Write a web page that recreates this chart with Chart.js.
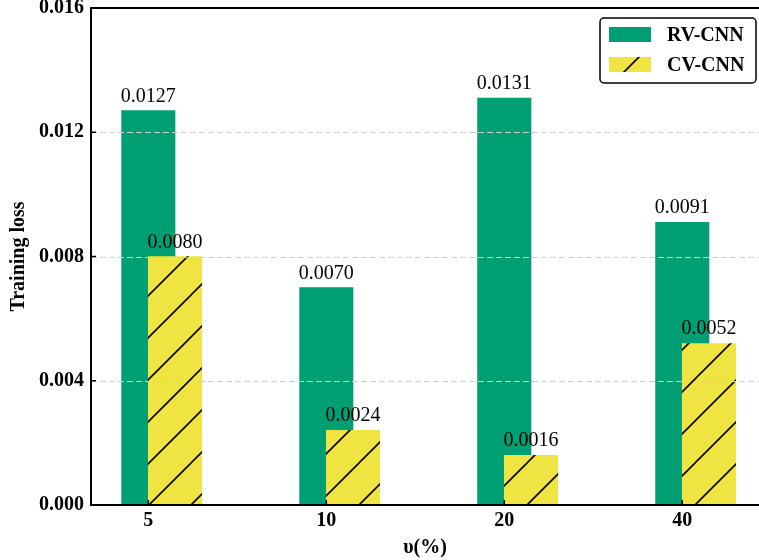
<!DOCTYPE html>
<html>
<head>
<meta charset="utf-8">
<script src="https://cdn.jsdelivr.net/npm/chart.js@4.4.0/dist/chart.umd.min.js"></script>
<style>
  html, body { margin: 0; padding: 0; background: #fff; }
  #wrap { width: 759px; height: 560px; }
</style>
</head>
<body>
<div id="wrap"><canvas id="lossChart" width="759" height="560"></canvas></div>
<script>
// values
const xLabels = ["5", "10", "20", "40"];
const seriesNames = ["RV-CNN", "CV-CNN"];
const rvLoss = [0.0127, 0.0070, 0.0131, 0.0091];
const cvLoss = [0.0080, 0.0024, 0.0016, 0.0052];
const yTicks = [0, 0.004, 0.008, 0.012, 0.016];

const GREEN = "#009E73";
const YELLOW = "#F0E442";
const FONT = "'Liberation Serif', 'Times New Roman', serif";

// diagonal "/" hatch on yellow
function makeHatch() {
  const s = 42;
  const c = document.createElement("canvas");
  c.width = s; c.height = s;
  const g = c.getContext("2d");
  g.fillStyle = YELLOW;
  g.fillRect(0, 0, s, s);
  g.strokeStyle = "#000";
  g.lineWidth = 1.6;
  g.beginPath();
  g.moveTo(-5, s + 5); g.lineTo(s + 5, -5);
  g.moveTo(-5, 5); g.lineTo(5, -5);
  g.moveTo(s - 5, s + 5); g.lineTo(s + 5, s - 5);
  g.stroke();
  const p = document.getElementById("lossChart").getContext("2d").createPattern(c, "repeat");
  p.setTransform(new DOMMatrix().translate(24, 0));
  return p;
}
const hatch = makeHatch();

const extras = {
  id: "extras",
  afterDatasetsDraw(chart) {
    const { ctx, chartArea: a, scales: { x, y } } = chart;
    ctx.save();

    // dashed grid, drawn over the bars
    ctx.strokeStyle = "#d0d0d0";
    ctx.lineWidth = 1.2;
    ctx.setLineDash([6, 3]);
    yTicks.slice(1, -1).forEach(v => {
      const py = Math.round(y.getPixelForValue(v)) + 0.5;
      ctx.beginPath(); ctx.moveTo(a.left, py); ctx.lineTo(a.right, py); ctx.stroke();
    });
    ctx.setLineDash([]);

    // spines and inward ticks
    ctx.strokeStyle = "#000";
    ctx.lineWidth = 2;
    ctx.beginPath();
    ctx.moveTo(a.right, a.top); ctx.lineTo(a.left, a.top);
    ctx.lineTo(a.left, a.bottom); ctx.lineTo(a.right, a.bottom);
    ctx.stroke();
    ctx.lineWidth = 1.5;
    yTicks.forEach(v => {
      const py = y.getPixelForValue(v);
      ctx.beginPath(); ctx.moveTo(a.left, py); ctx.lineTo(a.left + 5, py); ctx.stroke();
    });
    xLabels.forEach((_, i) => {
      const px = x.getPixelForValue(i);
      ctx.beginPath(); ctx.moveTo(px, a.bottom); ctx.lineTo(px, a.bottom - 5); ctx.stroke();
    });

    // value labels above bars
    ctx.fillStyle = "#000";
    ctx.font = "20px " + FONT;
    ctx.textAlign = "center";
    ctx.textBaseline = "alphabetic";
    chart.data.datasets.forEach((ds, di) => {
      chart.getDatasetMeta(di).data.forEach((bar, i) => {
        ctx.fillText(ds.data[i].y.toFixed(4), bar.x, bar.y - 9);
      });
    });

    // legend box
    const lx = 600, ly = 18, lw = 156, lh = 65;
    ctx.fillStyle = "#fff";
    ctx.strokeStyle = "#000";
    ctx.lineWidth = 1.5;
    ctx.beginPath();
    ctx.roundRect(lx, ly, lw, lh, 4);
    ctx.fill(); ctx.stroke();
    const fills = [GREEN, hatch];
    ctx.font = "bold 20px " + FONT;
    ctx.textAlign = "left";
    ctx.textBaseline = "middle";
    seriesNames.forEach((name, i) => {
      const ty = 27 + i * 30;
      ctx.fillStyle = fills[i];
      ctx.fillRect(609, ty, 42, 15);
      ctx.fillStyle = "#000";
      ctx.fillText(name, 667, ty + 8.5);
    });
    ctx.restore();
  }
};

new Chart(document.getElementById("lossChart"), {
  type: "bar",
  data: {
    datasets: [
      {
        label: seriesNames[0],
        data: rvLoss.map((v, i) => ({ x: i, y: v })),
        backgroundColor: GREEN,
        borderWidth: 0,
        order: 2,
      },
      {
        label: seriesNames[1],
        data: cvLoss.map((v, i) => ({ x: i + 0.15, y: v })),
        backgroundColor: hatch,
        borderWidth: 0,
        order: 1,
      },
    ],
  },
  options: {
    responsive: false,
    animation: false,
    layout: { padding: { top: 8, right: 0, left: 0, bottom: 0 } },
    datasets: { bar: { grouped: false, barThickness: 53.4 } },
    plugins: {
      legend: { display: false },
      tooltip: { enabled: false },
    },
    scales: {
      x: {
        type: "linear",
        offset: false,
        min: -0.322,
        max: 3.431,
        grid: { display: false, drawTicks: false, offset: false },
        border: { display: false },
        afterBuildTicks: s => { s.ticks = xLabels.map((_, i) => ({ value: i })); },
        afterFit: s => { s.height = 55; s.paddingLeft = 0; s.paddingRight = 0; },
        ticks: {
          padding: 4,
          autoSkip: false,
          maxRotation: 0,
          color: "#000",
          font: { family: FONT, size: 20, weight: "bold", lineHeight: 1.2 },
          callback: v => xLabels[v],
        },
        title: {
          display: true,
          text: "υ(%)",
          color: "#000",
          padding: { top: 0, bottom: 0 },
          font: { family: FONT, size: 20, weight: "bold", lineHeight: 1.2 },
        },
      },
      y: {
        min: 0,
        max: 0.016,
        grid: { display: false, drawTicks: false },
        border: { display: false },
        afterBuildTicks: s => { s.ticks = yTicks.map(v => ({ value: v })); },
        afterFit: s => { s.width = 91; s.paddingTop = 0; s.paddingBottom = 0; },
        ticks: {
          padding: 7,
          color: "#000",
          font: { family: FONT, size: 20, weight: "bold", lineHeight: 1.2 },
          callback: v => v.toFixed(3),
        },
        title: {
          display: true,
          text: "Training loss",
          color: "#000",
          padding: { top: 7, bottom: 0 },
          font: { family: FONT, size: 20, weight: "bold", lineHeight: 1.2 },
        },
      },
    },
  },
  plugins: [extras],
});
</script>
</body>
</html>
